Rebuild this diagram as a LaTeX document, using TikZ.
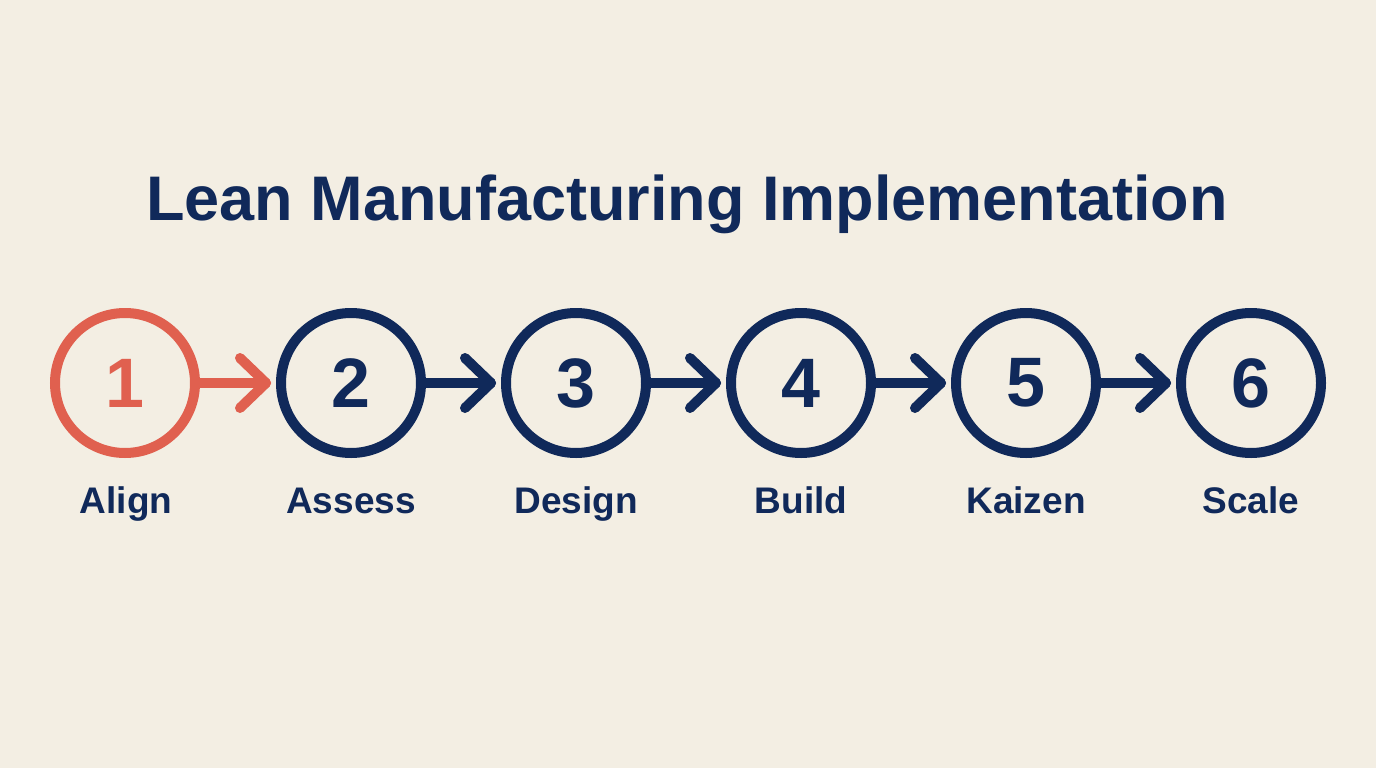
\documentclass[tikz,border=0pt]{standalone}
\usepackage{fontspec}
\setmainfont{Liberation Sans}
\usetikzlibrary{calc}
\definecolor{navy}{HTML}{10295A}
\definecolor{accent}{HTML}{E0604F}
\definecolor{bg}{HTML}{F3EEE3}
\newfontfamily\headfont{Liberation Sans}
\tikzset{
  stepcircle/.style={circle, draw=navy, line width=10pt, minimum size=140pt, inner sep=0pt,
    text=navy, font=\headfont\bfseries\fontsize{70}{70}\selectfont},
  steplabel/.style={anchor=base, text=navy, font=\headfont\bfseries\fontsize{37}{37}\selectfont},
  conn/.style={draw=navy, line width=10pt, line cap=round, line join=round},
}
\begin{document}
\begin{tikzpicture}[x=1pt,y=-1pt]
\fill[bg] (0,0) rectangle (1376,768);
\useasboundingbox (0,0) rectangle (1376,768);
\node[anchor=base, text=navy, font=\headfont\bfseries\fontsize{63}{63}\selectfont] (title) at (687,220) {Lean Manufacturing Implementation};
\node[stepcircle, draw=accent, text=accent] (c1) at (125,383) {1};
\node[stepcircle] (c2) at (351,383) {2};
\node[stepcircle] (c3) at (576,383) {3};
\node[stepcircle] (c4) at (801,383) {4};
\node[stepcircle] (c5) at (1026,383) {5};
\node[stepcircle] (c6) at (1251,383) {6};
\node[steplabel] (l1) at (126,513) {Align};
\node[steplabel] (l2) at (351,513) {Assess};
\node[steplabel] (l3) at (576,513) {Design};
\node[steplabel] (l4) at (801,513) {Build};
\node[steplabel] (l5) at (1026,513) {Kaizen};
\node[steplabel] (l6) at (1251,513) {Scale};
\foreach \a/\b/\col in {c1/c2/accent, c2/c3/navy, c3/c4/navy, c4/c5/navy, c5/c6/navy}{
  \coordinate (tip-\b) at ([xshift=-10pt]\b.west);
  \draw[conn, draw=\col] (\a.center) ++(70,0) -- (tip-\b);
  \draw[conn, draw=\col] ([xshift=-26pt,yshift=25pt]tip-\b) -- (tip-\b) -- ([xshift=-26pt,yshift=-25pt]tip-\b);
}
\end{tikzpicture}
\end{document}
